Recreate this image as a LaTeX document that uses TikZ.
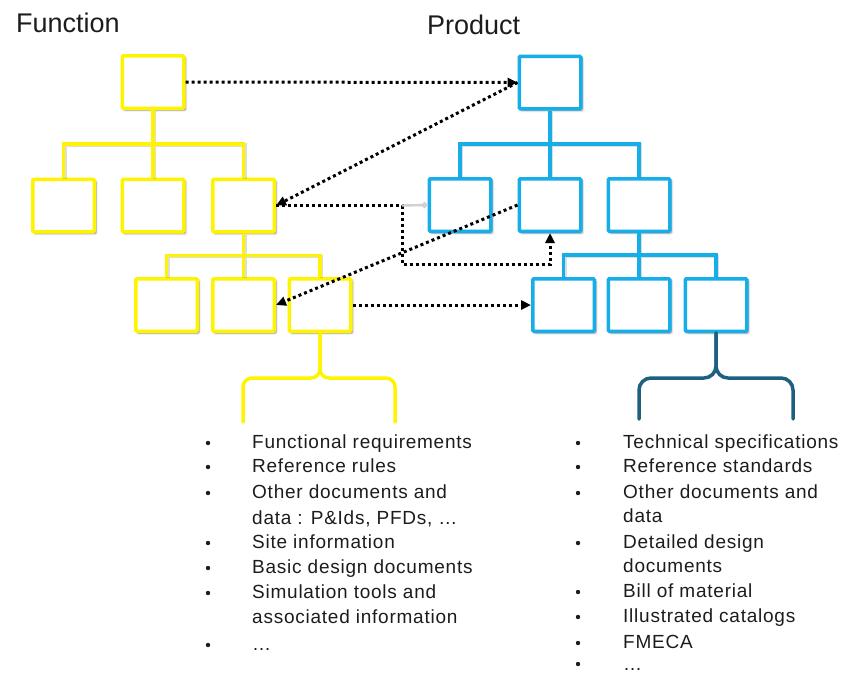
\documentclass[tikz,border=0pt]{standalone}
\usepackage{fontspec}
\setmainfont{Liberation Sans}
\newfontfamily\listfont[LetterSpace=4]{Liberation Sans}
\usetikzlibrary{arrows.meta,calc,shadows.blur}

\definecolor{fyellow}{RGB}{255,244,0}
\definecolor{pblue}{RGB}{22,174,232}
\definecolor{bracketblue}{RGB}{30,96,128}
\definecolor{inktext}{RGB}{28,28,28}

\begin{document}
\begin{tikzpicture}[x=1pt,y=-1pt,
  box/.style={draw, line width=3.5pt, fill=white, minimum width=61.5pt,
    minimum height=52.5pt, inner sep=0pt, rounded corners=1pt,
    blur shadow={shadow xshift=1.8pt, shadow yshift=-1.8pt,
      shadow blur radius=2pt, shadow opacity=50}},
  fbox/.style={box, draw=fyellow},
  pbox/.style={box, draw=pblue},
  treeline/.style={line width=3.5pt,
    preaction={draw=black!60, opacity=.22, line width=3.5pt,
      transform canvas={shift={(1.3pt,-1.3pt)}}}},
  elbow/.style={to path={(\tikztostart) |- ($(\tikztostart)!.5!(\tikztotarget)$) -| (\tikztotarget)}},
  brace/.style={line width=3.5pt, line cap=round},
  dotline/.style={line width=3pt, dash pattern=on 3pt off 3pt, black},
  dotarrow/.style={dotline, -{Triangle[length=10pt,width=9pt]}},
  title/.style={anchor=base west, inner sep=0pt, text=inktext,
    font=\fontsize{27}{32}\selectfont},
  item/.style={anchor=base west, inner sep=0pt, text=inktext,
    font=\listfont\fontsize{19}{22}\selectfont},
  bullet/.style={circle, fill=inktext, inner sep=0pt, minimum size=4.4pt}
]
\useasboundingbox (0,0) rectangle (845,673);

% titles
\node[title] (ftitle) at (16,32) {Function};
\node[title] (ptitle) at (427,34) {Product};

% function tree
\node[fbox] (F0)  at (153,82) {};
\node[fbox] (F1a) at (63.5,205.5) {};
\node[fbox] (F1b) at (153,205.5) {};
\node[fbox] (F1c) at (243.5,205.5) {};
\node[fbox] (F2a) at (166.5,305) {};
\node[fbox] (F2b) at (243.5,305) {};
\node[fbox] (F2c) at (320,305) {};

\draw[treeline, fyellow] (F0.south) to[elbow] (F1a.north)
  (F0.south) -- (F1b.north) (F0.south) to[elbow] (F1c.north);
\draw[treeline, fyellow] (F1c.south) to[elbow] (F2a.north)
  (F1c.south) -- (F2b.north) (F1c.south) to[elbow] (F2c.north);

% product tree
\node[pbox] (P0)  at (550,82.5) {};
\node[pbox] (P1a) at (460,205) {};
\node[pbox] (P1b) at (550,205) {};
\node[pbox] (P1c) at (639,205) {};
\node[pbox] (P2a) at (563.5,305) {};
\node[pbox] (P2b) at (639,305) {};
\node[pbox] (P2c) at (716,305) {};

\draw[treeline, pblue] (P0.south) to[elbow] (P1a.north)
  (P0.south) -- (P1b.north) (P0.south) to[elbow] (P1c.north);
\draw[treeline, pblue] (P1c.south) to[elbow] (P2a.north)
  (P1c.south) -- (P2b.north) (P1c.south) to[elbow] (P2c.north);

% braces under the leaf boxes
\draw[brace, fyellow, rounded corners=9pt] (F2c.south) -- ++(0,45) -| ++(-77,44);
\draw[brace, fyellow, rounded corners=9pt] (F2c.south) -- ++(0,45) -| ++(75,44);
\draw[brace, bracketblue, rounded corners=12pt] (P2c.south) -- ++(0,45) -| ++(-77,41);
\draw[brace, bracketblue, rounded corners=12pt] (P2c.south) -- ++(0,45) -| ++(77,41);

% dotted links between the trees
\draw[dotarrow] (F0.east) -- (P0.west);
\draw[dotarrow] (P0.west) -- (F1c.east);
\draw[dotarrow] (F1c.east) -- ++(126,0) coordinate (jn)
  |- ($(P1b.south)+(0,31)$) -- (P1b.south);
\draw[black!18, line width=2.4pt, -{Circle[open,length=6pt,width=6pt]}] (jn) -- (P1a.west);
\draw[dotarrow] (P1b.west) -- (F2b.east);
\draw[dotarrow] (F2c.east) -- (P2a.west);

% function documents
\node[item] (l1)  at (252,448) {Functional requirements};
\node[item] (l2)  at (252,472) {Reference rules};
\node[item] (l3)  at (252,498) {Other documents and};
\node[item] (l3b) at (252,524) {data : P\&Ids, PFDs, …};
\node[item] (l4)  at (252,548) {Site information};
\node[item] (l5)  at (252,573) {Basic design documents};
\node[item] (l6)  at (252,598) {Simulation tools and};
\node[item] (l6b) at (252,623) {associated information};
\node[item] (l7)  at (252,650) {…};
\foreach \y [count=\i] in {443,467,493,543,568,593,645}
  \node[bullet] (lb\i) at (208,\y) {};

% product documents
\node[item] (r1)  at (623,448) {Technical specifications};
\node[item] (r2)  at (623,472) {Reference standards};
\node[item] (r3)  at (623,498) {Other documents and};
\node[item] (r3b) at (623,522) {data};
\node[item] (r4)  at (623,548) {Detailed design};
\node[item] (r4b) at (623,572) {documents};
\node[item] (r5)  at (623,597) {Bill of material};
\node[item] (r6)  at (623,622) {Illustrated catalogs};
\node[item] (r7)  at (623,648) {FMECA};
\node[item] (r8)  at (623,670) {…};
\foreach \y [count=\i] in {443,467,493,543,592,617,643,664}
  \node[bullet] (rb\i) at (578,\y) {};
\end{tikzpicture}
\end{document}
